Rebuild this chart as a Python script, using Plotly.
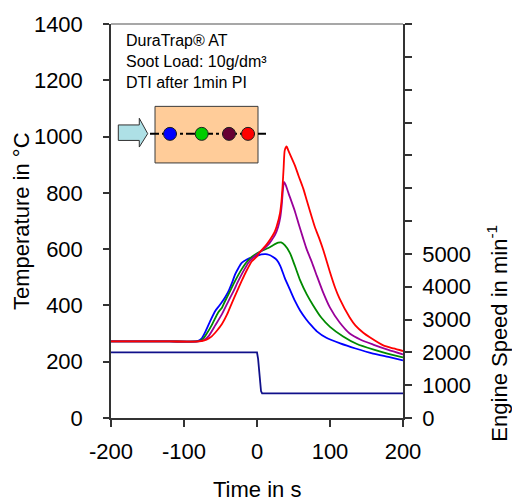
import plotly.graph_objects as go

# ---- data -------------------------------------------------------------
x_ticks = [-200, -100, 0, 100, 200]
x_labels = ["-200", "-100", "0", "100", "200"]
t_ticks = [0, 200, 400, 600, 800, 1000, 1200, 1400]
rpm_ticks = [0, 1000, 2000, 3000, 4000, 5000]

t_blue = [-200, -120, -82, -76, -71, -64, -57, -52, -48, -43, -39, -34, -30, -25, -21,
          -14, -7, 0, 6, 12, 16, 22, 27, 32, 38, 45, 52, 59, 67, 75, 82, 95, 114, 135,
          159, 180, 200]
T_blue = [272, 272, 273, 282, 305, 345, 381, 398, 412, 432, 451, 482, 510, 535, 551,
          563, 571, 576, 581, 582, 580, 572, 562, 540, 498, 457, 416, 382, 352, 327, 308,
          285, 265, 247, 229, 217, 205]

t_green = [-200, -120, -80, -74, -69, -62, -53, -48, -44, -37, -30, -23, -16, -9, -3,
           5, 15.5, 22, 29, 33, 38, 45, 52, 59, 68, 77, 88, 100, 118, 137, 160, 180, 200]
T_green = [272, 272, 273, 281, 299, 330, 376, 392, 414, 450, 487, 520, 548, 568, 580,
           592, 604, 614, 623, 624, 614, 587, 540, 490, 440, 400, 357, 324, 290, 263,
           243, 228, 215]

t_purple = [-200, -120, -80, -72, -66, -57, -48, -39, -32, -25.6, -19, -12, -6, 0, 8,
            15.5, 20, 24.7, 29, 32, 34, 35.5, 37, 39, 43, 52, 57, 63, 68, 75, 82, 90,
            100, 113, 127, 142, 159, 180, 200]
T_purple = [272, 272, 272, 278, 292, 330, 369, 416, 452, 487, 520, 551, 568, 581, 598,
            616, 632, 651, 680, 715, 760, 810, 839, 830, 800, 734, 690, 640, 600, 555,
            505, 450, 392, 340, 300, 278, 261, 242, 226]

t_red = [-200, -120, -80, -72, -66, -62, -55, -48, -41, -35, -28, -21, -14, -7, 0, 4,
         13, 18, 24, 27, 31.5, 33.5, 35, 36.5, 38, 40.6, 43, 52, 57, 63.4, 68, 79.5,
         85, 91, 100, 107, 113, 127, 135, 146, 155, 173, 187, 200]
T_red = [272, 272, 272, 276, 283, 290, 310, 334, 368, 405, 446, 487, 525, 557, 574,
         590, 616, 634, 660, 681, 728, 770, 822, 890, 951, 965, 950, 897, 860, 815, 775,
         677, 640, 595, 518, 463, 425, 357, 328, 302, 286, 258, 247, 238]

t_speed = [-200, 0, 1.5, 3.5, 5.5, 7, 200]
rpm_speed = [2000, 2000, 1800, 1200, 820, 750, 750]

# ---- figure -----------------------------------------------------------
FONT = "Liberation Sans, Arial, sans-serif"
AXIS = "#333333"

fig = go.Figure()

fig.add_trace(go.Scatter(x=t_speed, y=rpm_speed, yaxis="y2", mode="lines",
                         line=dict(color="#10108a", width=1.8), showlegend=False))

for tt, TT, col in [(t_blue, T_blue, "#0000ff"),
                    (t_green, T_green, "#008a00"),
                    (t_purple, T_purple, "#990099"),
                    (t_red, T_red, "#ff0000")]:
    fig.add_trace(go.Scatter(x=tt, y=TT, mode="lines", showlegend=False,
                             line=dict(color=col, width=1.8, shape="spline",
                                       smoothing=0.6)))

# plot area in pixels
L, R, TOP, BOT = 111, 403, 21, 418
W, H = R - L, BOT - TOP


def px(x):
    return (x - L) / W


def py(y):
    return (BOT - y) / H


shapes = []
# top frame line
shapes.append(dict(type="line", xref="paper", yref="paper", x0=0, x1=1, y0=1, y1=1,
                   line=dict(color="#8a8a8a", width=1.5)))
# filter block
shapes.append(dict(type="rect", xref="paper", yref="paper",
                   x0=px(155), x1=px(258), y0=py(161), y1=py(104),
                   fillcolor="#ffcc99", line=dict(color="#3a3a3a", width=1)))
# flow arrow
arrow = [(118.3, 122.7), (139.3, 122.7), (139.3, 116), (147.7, 131.5), (139.3, 145),
         (139.3, 138.3), (118.3, 138.3)]
path = "M " + " L ".join(f"{px(a):.4f},{py(b):.4f}" for a, b in arrow) + " Z"
shapes.append(dict(type="path", xref="paper", yref="paper", path=path,
                   fillcolor="#aee0e6", line=dict(color="#303030", width=1)))
# centre line
shapes.append(dict(type="line", xref="paper", yref="paper",
                   x0=px(150), x1=px(266), y0=py(131.7), y1=py(131.7),
                   line=dict(color="#000000", width=2, dash="dashdot")))
# thermocouple positions
for cx, col in [(170, "#0000ff"), (201.7, "#00cc00"), (229, "#660033"), (248, "#ff0000")]:
    shapes.append(dict(type="circle", xref="paper", yref="paper",
                       xsizemode="pixel", ysizemode="pixel",
                       xanchor=px(cx), yanchor=py(131.7),
                       x0=-6.5, x1=6.5, y0=-6.5, y1=6.5,
                       fillcolor=col, line=dict(color="#202020", width=1)))

annotations = [
    dict(text="DuraTrap® AT<br>Soot Load: 10g/dm³<br>DTI after 1min PI",
         xref="paper", yref="paper", x=px(123.5), y=py(27), xanchor="left",
         yanchor="top", align="left", showarrow=False,
         font=dict(family=FONT, size=16, color="#000000")),
    dict(text="Temperature in °C", xref="paper", yref="paper", x=px(21), y=0.5,
         textangle=-90, showarrow=False, xanchor="center", yanchor="middle",
         font=dict(family=FONT, size=22, color="#000000")),
    dict(text="Time in s", xref="paper", yref="paper", x=0.5, y=py(490),
         showarrow=False, xanchor="center", yanchor="middle",
         font=dict(family=FONT, size=22, color="#000000")),
    dict(text="Engine Speed in min<sup>-1</sup>", xref="paper", yref="paper",
         x=px(497), y=py(333), textangle=-90, showarrow=False,
         xanchor="center", yanchor="middle",
         font=dict(family=FONT, size=22, color="#000000")),
]

fig.update_layout(
    width=512, height=502,
    margin=dict(l=L, r=512 - R, t=TOP, b=502 - BOT, pad=0),
    paper_bgcolor="white", plot_bgcolor="white",
    font=dict(family=FONT, size=22, color="#000000"),
    shapes=shapes, annotations=annotations,
    xaxis=dict(range=[-200, 200], tickvals=x_ticks, ticktext=x_labels, ticks="outside",
               ticklen=7, tickwidth=1.5, tickcolor=AXIS, showline=True, linecolor=AXIS,
               linewidth=1.5, showgrid=False, zeroline=False, ticklabelstandoff=6),
    yaxis=dict(range=[0, 1400], tickvals=t_ticks, ticks="outside", ticklen=6,
               tickwidth=1.5, tickcolor=AXIS, showline=True, linecolor=AXIS,
               linewidth=1.5, showgrid=False, zeroline=False, ticklabelstandoff=16),
    yaxis2=dict(range=[0, 12000], tickvals=rpm_ticks,
                overlaying="y", side="right", ticks="outside", ticklen=7,
                tickwidth=1.5, tickcolor=AXIS, showline=True, linecolor=AXIS,
                linewidth=1.5, showgrid=False, zeroline=False, ticklabelstandoff=6,
                minor=dict(dtick=1000, tick0=0, ticks="outside", ticklen=7,
                           tickwidth=1.5, tickcolor=AXIS, showgrid=False)),
)

fig.write_html("out.html")
